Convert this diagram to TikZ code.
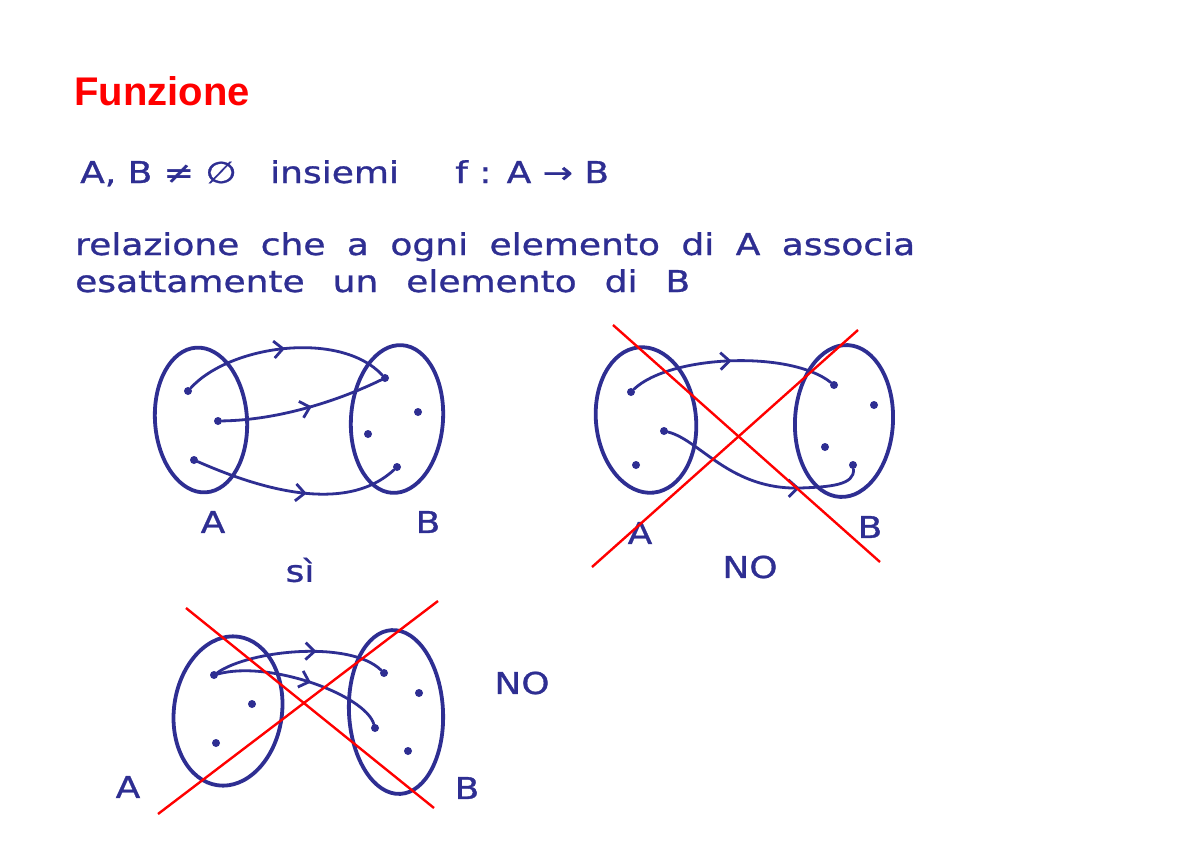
\documentclass[tikz,border=0pt]{standalone}
\usepackage{fontspec}
\setmainfont{Liberation Sans}
\newfontfamily\handfont[FakeStretch=1.2,FakeBold=1]{DejaVu Sans}
\usetikzlibrary{positioning,shapes.geometric,decorations.markings,arrows.meta}
\definecolor{inkblue}{RGB}{46,46,146}
\definecolor{crossred}{RGB}{255,0,0}

\begin{document}
\begin{tikzpicture}[x=1pt,y=-1pt,
  hand/.style={inkblue,inner sep=0pt,font=\handfont\fontsize{30}{36}\selectfont},
  setbox/.style={draw=inkblue,ellipse,line width=3.8pt,inner sep=0pt},
  elem/.style={circle,fill=inkblue,inner sep=0pt,minimum size=8pt},
  mapto/.style={inkblue,line width=2.8pt,line cap=round,decoration={markings,
    mark=at position #1 with {\arrow{Straight Barb[length=9pt,width=17pt]}}},
    postaction={decorate}},
  mapto/.default=0.5,
  nocross/.style={crossred,line width=2.4pt}]
\fill[white] (0,0) rectangle (1200,846);
\useasboundingbox (0,0) rectangle (1200,846);

% intestazione
\node[anchor=base west,inner sep=0pt,crossred,font=\bfseries\fontsize{40}{48}\selectfont] (title) at (74,105) {Funzione};
\node[hand,anchor=base west] (sets) at (80,183) {A, B ≠ ∅};
\node[hand,anchor=base west] (ins) at (270,183) {insiemi};
\node[hand,anchor=base west] (fab) at (455,183) {f : A → B};
\node[hand,anchor=base west] (rel1) at (75,255) {\makebox[840pt][s]{relazione che a ogni elemento di A associa}};
\node[hand,anchor=base west] (rel2) at (75,292) {\makebox[615pt][s]{esattamente un elemento di B}};

% primo esempio: si'
\node[setbox,minimum width=92pt,minimum height=145pt,rotate=4] (sA) at (201,420) {};
\node[setbox,minimum width=92pt,minimum height=148pt,rotate=-4] (sB) at (397,419) {};
\node[elem] (pa1) at (188,391) {};
\node[elem] (pa2) at (218,421) {};
\node[elem] (pa3) at (194,460) {};
\node[elem] (pb1) at (385,378) {};
\node[elem] (pb2) at (418,412) {};
\node[elem] (pb3) at (368,434) {};
\node[elem] (pb4) at (397,467) {};
\draw[mapto=0.5] (pa1) .. controls (230,345) and (340,330) .. (pb1);
\draw[mapto=0.55] (pa2) .. controls (280,420) and (340,400) .. (pb1);
\draw[mapto=0.55] (pa3) .. controls (240,480) and (340,520) .. (pb4);
\node[hand] (lA1) at (213,522) {A};
\node[hand] (lB1) at (428,522) {B};
\node[hand] (si) at (300,570) {sì};

% secondo esempio: no
\node[setbox,minimum width=100pt,minimum height=146pt,rotate=6] (qA) at (646,420) {};
\node[setbox,minimum width=98pt,minimum height=152pt,rotate=-3] (qB) at (844,421) {};
\node[elem] (qa1) at (631,392) {};
\node[elem] (qa2) at (664,431) {};
\node[elem] (qa3) at (636,465) {};
\node[elem] (qb1) at (834,385) {};
\node[elem] (qb2) at (874,405) {};
\node[elem] (qb3) at (825,447) {};
\node[elem] (qb4) at (853,465) {};
\draw[mapto=0.5] (qa1) .. controls (670,355) and (790,350) .. (qb1);
\draw[mapto=0.7] (qa2) .. controls (700,440) and (730,490) .. (800,488)
  .. controls (830,487) and (855,485) .. (qb4);
\node[hand] (lA2) at (640,533) {A};
\node[hand] (lB2) at (870,527) {B};
\node[hand] (no1) at (750,567) {NO};
\draw[nocross] (613,325) -- (880,562);
\draw[nocross] (592,567) -- (858,330);

% terzo esempio: no
\node[setbox,minimum width=108pt,minimum height=150pt,rotate=-8] (rA) at (228,711) {};
\node[setbox,minimum width=94pt,minimum height=164pt,rotate=3] (rB) at (396,712) {};
\node[elem] (ra1) at (214,675) {};
\node[elem] (ra2) at (252,704) {};
\node[elem] (ra3) at (216,743) {};
\node[elem] (rb1) at (384,673) {};
\node[elem] (rb2) at (419,693) {};
\node[elem] (rb3) at (375,728) {};
\node[elem] (rb4) at (408,751) {};
\draw[mapto=0.6] (ra1) .. controls (250,650) and (350,640) .. (rb1);
\draw[mapto=0.55] (ra1) .. controls (270,660) and (365,695) .. (rb3);
\node[hand] (lA3) at (128,787) {A};
\node[hand] (lB3) at (467,788) {B};
\node[hand] (no2) at (522,683) {NO};
\draw[nocross] (186,608) -- (434,808);
\draw[nocross] (158,814) -- (438,601);
\end{tikzpicture}
\end{document}
